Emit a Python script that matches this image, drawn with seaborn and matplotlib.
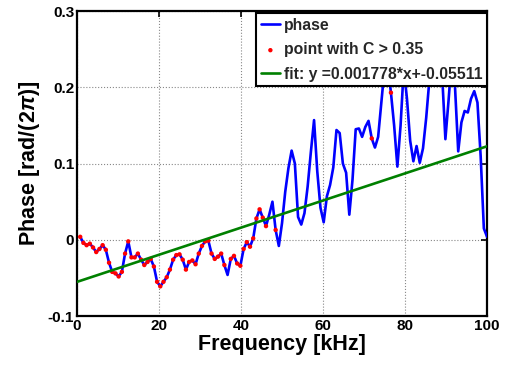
import matplotlib
matplotlib.use("Agg")
import matplotlib.pyplot as plt
import seaborn as sns
import numpy as np
import pandas as pd

sns.set_theme(style="white")
plt.rcParams['font.family'] = ['Liberation Sans', 'DejaVu Sans']
plt.rcParams['font.weight'] = 'bold'
plt.rcParams['mathtext.fontset'] = 'custom'
plt.rcParams['mathtext.it'] = 'Liberation Sans:italic:bold'
plt.rcParams['mathtext.rm'] = 'Liberation Sans:bold'

# Frequency grid [kHz]
freq = [0.78, 1.56, 2.34, 3.13, 3.91, 4.69, 5.47, 6.25, 7.03, 7.81,
        8.59, 9.38, 10.16, 10.94, 11.72, 12.50, 13.28, 14.06, 14.84, 15.63,
        16.41, 17.19, 17.97, 18.75, 19.53, 20.31, 21.09, 21.88, 22.66, 23.44,
        24.22, 25.00, 25.78, 26.56, 27.34, 28.13, 28.91, 29.69, 30.47, 31.25,
        32.03, 32.81, 33.59, 34.38, 35.16, 35.94, 36.72, 37.50, 38.28, 39.06,
        39.84, 40.63, 41.41, 42.19, 42.97, 43.75, 44.53, 45.31, 46.09, 46.88,
        47.66, 48.44, 49.22, 50.00, 50.78, 51.56, 52.34, 53.13, 53.91, 54.69,
        55.47, 56.25, 57.03, 57.81, 58.59, 59.38, 60.16, 60.94, 61.72, 62.50,
        63.28, 64.06, 64.84, 65.63, 66.41, 67.19, 67.97, 68.75, 69.53, 70.31,
        71.09, 71.88, 72.66, 73.44, 74.22, 75.00, 75.78, 76.56, 77.34, 78.13,
        78.91, 79.69, 80.47, 81.25, 82.03, 82.81, 83.59, 84.38, 85.16, 85.94,
        86.72, 87.50, 88.28, 89.06, 89.84, 90.63, 91.41, 92.19, 92.97, 93.75,
        94.53, 95.31, 96.09, 96.88, 97.66, 98.44, 99.22, 100.00]

# Phase [rad/(2 pi)]
phase = [0.004, -0.004, -0.007, -0.005, -0.010, -0.016, -0.012, -0.007, -0.013, -0.030,
         -0.042, -0.044, -0.048, -0.042, -0.018, -0.002, -0.023, -0.023, -0.018, -0.026,
         -0.033, -0.029, -0.025, -0.035, -0.055, -0.061, -0.055, -0.049, -0.039, -0.026,
         -0.020, -0.019, -0.026, -0.039, -0.029, -0.027, -0.032, -0.018, -0.008, -0.002,
         -0.001, -0.018, -0.025, -0.022, -0.018, -0.033, -0.046, -0.025, -0.021, -0.031,
         -0.034, -0.012, -0.003, -0.009, 0.002, 0.028, 0.040, 0.029, 0.018, 0.033,
         0.050, 0.013, -0.008, 0.022, 0.063, 0.094, 0.117, 0.100, 0.030, 0.020,
         0.035, 0.070, 0.115, 0.157, 0.090, 0.042, 0.023, 0.057, 0.072, 0.095,
         0.144, 0.140, 0.100, 0.088, 0.033, 0.079, 0.145, 0.146, 0.135, 0.148,
         0.156, 0.133, 0.121, 0.135, 0.180, 0.225, 0.230, 0.193, 0.150, 0.096,
         0.150, 0.225, 0.185, 0.130, 0.103, 0.123, 0.101, 0.120, 0.160, 0.210,
         0.250, 0.260, 0.250, 0.215, 0.132, 0.184, 0.240, 0.200, 0.116, 0.154,
         0.169, 0.167, 0.185, 0.195, 0.180, 0.110, 0.015, 0.004]

# Indices (1-based) of points with coherence C > 0.35
coherent_idx = list(range(1, 47)) + list(range(48, 60)) + [62, 92, 98]

fit_slope = 0.001778
fit_intercept = -0.05511
fit_x = [0, 100]

df = pd.DataFrame({"freq": freq, "phase": phase})
pts = df.iloc[[i - 1 for i in coherent_idx]]
fit_df = pd.DataFrame({"x": fit_x, "y": [fit_slope * x + fit_intercept for x in fit_x]})

fig = plt.figure(figsize=(5.10, 3.68), dpi=100)
ax = fig.add_axes([0.151, 0.141, 0.804, 0.829])

sns.lineplot(data=df, x="freq", y="phase", ax=ax, color="#0000ff", lw=1.9,
             sort=False, estimator=None, label="phase", zorder=3)
sns.scatterplot(data=pts, x="freq", y="phase", ax=ax, color="#ff0000", s=10,
                edgecolor="none", linewidth=0, label="point with C > 0.35", zorder=4)
sns.lineplot(data=fit_df, x="x", y="y", ax=ax, color="#008000", lw=1.9,
             sort=False, estimator=None,
             label="fit: y =0.001778*x+-0.05511", zorder=5)

ax.set_xlim(0, 100)
ax.set_ylim(-0.1, 0.3)
ax.set_xticks([0, 20, 40, 60, 80, 100])
ax.set_yticks([-0.1, 0, 0.1, 0.2, 0.3])
ax.set_yticklabels(["-0.1", "0", "0.1", "0.2", "0.3"])
ax.tick_params(axis='both', which='both', direction='in', length=4, width=1.2,
               top=True, right=True, labelsize=11, pad=2, colors='black')
for lab in ax.get_xticklabels() + ax.get_yticklabels():
    lab.set_fontweight('bold')

ax.grid(True, linestyle=':', color='#888888', linewidth=0.8)
for s in ax.spines.values():
    s.set_visible(True)
    s.set_color('black')
    s.set_linewidth(1.6)

ax.set_xlabel("Frequency [kHz]", fontsize=15.5, fontweight='bold', labelpad=1, color='black')
ax.set_ylabel("Phase [rad/(2$\\pi$)]", fontsize=15.5, fontweight='bold', labelpad=4, color='black')

leg = ax.legend(loc="upper right", bbox_to_anchor=(1.0, 0.993), borderaxespad=0,
                fancybox=False, framealpha=1, edgecolor='black',
                prop={'weight': 'bold', 'size': 11.3}, handlelength=1.2,
                handletextpad=0.25, labelspacing=0.6, borderpad=0.3, markerscale=1.0)
leg.get_frame().set_linewidth(1.5)
leg.set_zorder(10)

fig.savefig("out.png", dpi=100)
